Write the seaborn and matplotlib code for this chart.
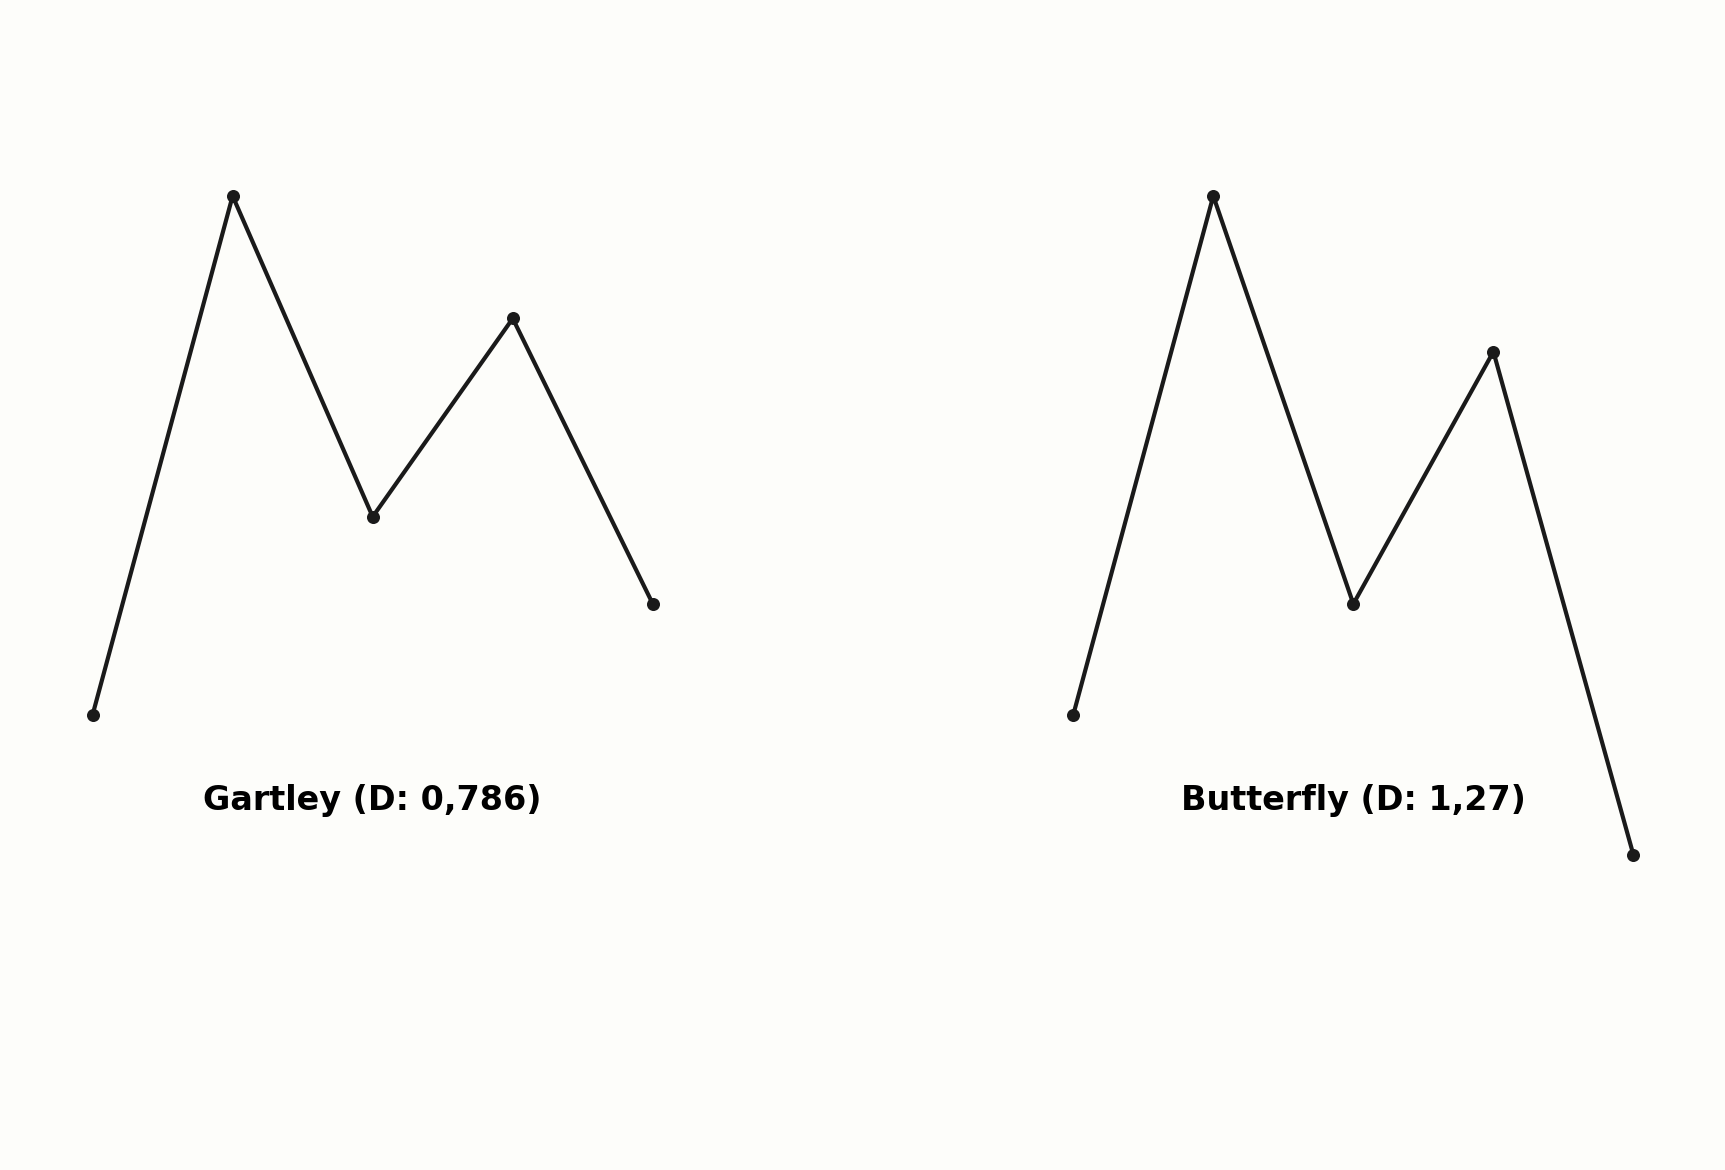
import pandas as pd
import matplotlib
matplotlib.use("Agg")
import matplotlib.pyplot as plt
import seaborn as sns

# Data: harmonic pattern points (X, A, B, C, D)
points = ["X", "A", "B", "C", "D"]
gartley_y = [0.0, 1.0, 0.382, 0.764, 0.214]
butterfly_y = [0.0, 1.0, 0.214, 0.700, -0.27]
titles = ["Gartley (D: 0,786)", "Butterfly (D: 1,27)"]

bg = "#fdfdfa"
sns.set_style("white")
plt.rcParams["font.family"] = ["DejaVu Sans"]

fig = plt.figure(figsize=(11.5, 7.8), dpi=150)
fig.patch.set_facecolor(bg)

positions = [
    [0.0293, 0.1671, 0.3735, 0.7541],
    [0.5978, 0.1671, 0.3735, 0.7541],
]

for pos, ys, title in zip(positions, [gartley_y, butterfly_y], titles):
    ax = fig.add_axes(pos)
    ax.set_facecolor(bg)
    df = pd.DataFrame({"i": range(len(points)), "y": ys})
    sns.lineplot(data=df, x="i", y="y", ax=ax, color="#1a1a1a",
                 linewidth=2.0, marker="o", markersize=5.5,
                 markeredgecolor="#1a1a1a", sort=False)
    ax.text(2, -0.165, title, ha="center", va="center",
            fontsize=16, fontweight="bold", color="black")
    ax.set_xlim(-0.3, 4.3)
    ax.set_ylim(-0.5, 1.2)
    ax.axis("off")

fig.savefig("out.png", dpi=150, facecolor=bg)
